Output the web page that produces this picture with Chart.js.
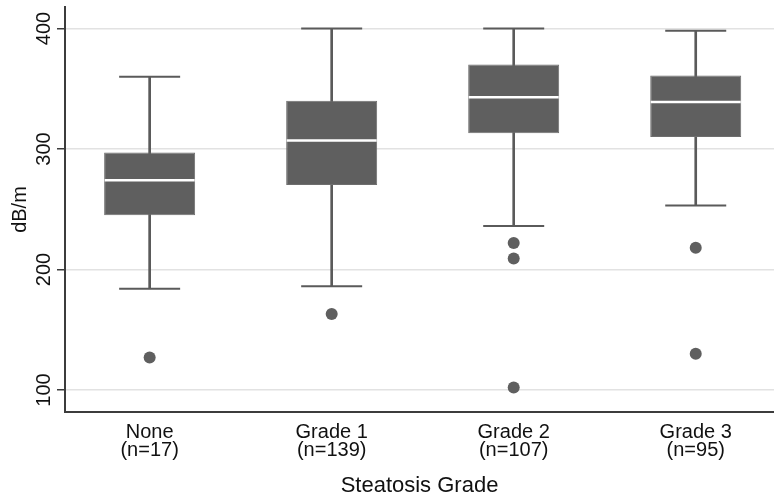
<!DOCTYPE html>
<html>
<head>
<meta charset="utf-8">
<script src="https://cdn.jsdelivr.net/npm/chart.js@4/dist/chart.umd.min.js"></script>
<style>
    body { margin: 0; background: #fff; }
    #wrap { width: 774px; height: 502px; position: relative; }
</style>
</head>
<body>
<div id="wrap"><canvas id="boxChart"></canvas></div>
<script>
// steatosis grades and group sizes
const categories = ['None', 'Grade 1', 'Grade 2', 'Grade 3'];
const counts = [17, 139, 107, 95];
const positions = [1, 2, 3, 4];

// box plot summaries (dB/m)
const whiskerLow = [184, 186, 236, 253];
const q1 = [245, 270, 313, 310];
const median = [274, 307, 343, 339];
const q3 = [297, 340, 370, 361];
const whiskerHigh = [360, 400, 400, 398];

// outside values per grade
const outliers = [[127], [163], [222, 209, 102], [218, 130]];

const yTicks = [100, 200, 300, 400];

const boxGrey = '#5f5f5f';
const lineGrey = '#5a5a5a';
const axisGrey = '#3c3c3c';
const fontFamily = "'Liberation Sans', Arial, sans-serif";

// rotated y tick labels, placed from the y scale
const yLabelsPlugin = {
    id: 'yLabels',
    afterDraw(chart) {
        const yScale = chart.scales.y;
        const ctx = chart.ctx;
        ctx.save();
        ctx.fillStyle = '#111';
        ctx.font = '20px ' + fontFamily;
        ctx.textAlign = 'center';
        ctx.textBaseline = 'alphabetic';
        yScale.ticks.forEach(t => {
            const py = yScale.getPixelForValue(t.value);
            ctx.save();
            ctx.translate(50, py);
            ctx.rotate(-Math.PI / 2);
            ctx.fillText(String(t.value), 0, 0);
            ctx.restore();
        });
        ctx.restore();
    }
};

window.onload = () => {
    const ctx = document.getElementById('boxChart').getContext('2d');

    let outlierPoints = [];
    outliers.forEach((list, i) => {
        list.forEach(v => outlierPoints.push({x: positions[i], y: v}));
    });

    new Chart(ctx, {
        type: 'bar',
        data: {
            datasets: [
                {
                    // whisker stems
                    type: 'bar',
                    order: 4,
                    grouped: false,
                    data: positions.map((p, i) => ({x: p, y: [whiskerLow[i], whiskerHigh[i]]})),
                    backgroundColor: lineGrey,
                    barThickness: 2,
                    borderWidth: 0
                },
                {
                    // boxes
                    type: 'bar',
                    order: 3,
                    grouped: false,
                    data: positions.map((p, i) => ({x: p, y: [q1[i], q3[i]]})),
                    backgroundColor: boxGrey,
                    borderColor: '#6e6e6e',
                    borderWidth: 1,
                    borderSkipped: false,
                    barPercentage: 1,
                    categoryPercentage: 0.5
                },
                {
                    // medians
                    type: 'scatter',
                    order: 2,
                    data: positions.map((p, i) => ({x: p, y: median[i]})),
                    pointStyle: 'line',
                    pointRadius: 45,
                    borderColor: '#ffffff',
                    borderWidth: 2.5
                },
                {
                    // whisker caps, low and high
                    type: 'scatter',
                    order: 2,
                    data: positions.map((p, i) => ({x: p, y: whiskerLow[i]}))
                        .concat(positions.map((p, i) => ({x: p, y: whiskerHigh[i]}))),
                    pointStyle: 'line',
                    pointRadius: 30.5,
                    borderColor: lineGrey,
                    borderWidth: 2
                },
                {
                    // outside values
                    type: 'scatter',
                    order: 1,
                    data: outlierPoints,
                    pointStyle: 'circle',
                    pointRadius: 6,
                    backgroundColor: boxGrey,
                    borderColor: boxGrey,
                    borderWidth: 0
                }
            ]
        },
        options: {
            responsive: true,
            maintainAspectRatio: false,
            animation: false,
            layout: {
                autoPadding: false,
                padding: {left: 0, right: 0, top: 7, bottom: 0}
            },
            plugins: {
                legend: {display: false},
                tooltip: {enabled: false}
            },
            scales: {
                x: {
                    type: 'linear',
                    min: 0.535,
                    max: 4.43,
                    offset: false,
                    afterBuildTicks: scale => {
                        scale.ticks = positions.map(v => ({value: v}));
                    },
                    afterFit: scale => {
                        scale.height = 90;
                    },
                    grid: {display: false, drawTicks: false},
                    border: {display: true, color: axisGrey, width: 2},
                    ticks: {
                        padding: 12,
                        color: '#111',
                        font: {family: fontFamily, size: 20, lineHeight: 0.87},
                        maxRotation: 0,
                        minRotation: 0,
                        callback: (value) => {
                            const i = positions.indexOf(value);
                            return i < 0 ? '' : [categories[i], '(n=' + counts[i] + ')'];
                        }
                    },
                    title: {
                        display: true,
                        text: 'Steatosis Grade',
                        color: '#111',
                        font: {family: fontFamily, size: 22},
                        padding: {top: 0, bottom: 3}
                    }
                },
                y: {
                    type: 'linear',
                    min: 81.7,
                    max: 417.8,
                    afterBuildTicks: scale => {
                        scale.ticks = yTicks.map(v => ({value: v}));
                    },
                    afterFit: scale => {
                        scale.width = 65;
                    },
                    grid: {
                        color: '#e2e2e2',
                        lineWidth: 1.5,
                        drawTicks: true,
                        tickLength: 8,
                        tickColor: axisGrey,
                        tickWidth: 1.5
                    },
                    border: {display: true, color: axisGrey, width: 2},
                    ticks: {display: false},
                    title: {
                        display: true,
                        text: 'dB/m',
                        color: '#111',
                        font: {family: fontFamily, size: 20},
                        padding: {top: 8, bottom: 0}
                    }
                }
            }
        },
        plugins: [yLabelsPlugin]
    });
}
</script>
</body>
</html>
